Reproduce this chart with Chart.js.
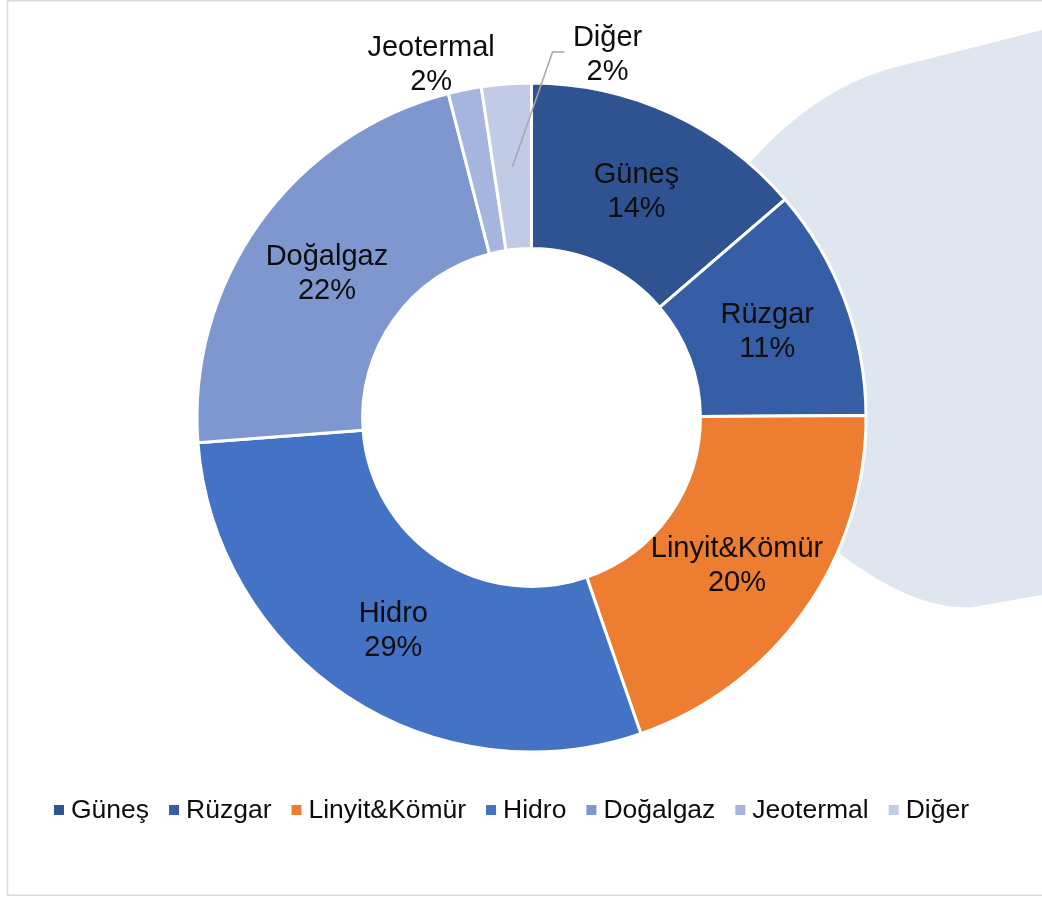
<!DOCTYPE html>
<html><head><meta charset="utf-8">
<script src="https://cdn.jsdelivr.net/npm/chart.js@4"></script>
<style>html,body{margin:0;padding:0;background:#fff;overflow:hidden}canvas{display:block}</style>
</head><body>
<canvas id="c" width="1042" height="897"></canvas>
<script>
// ---- data ----
const categories = ['Güneş', 'Rüzgar', 'Linyit&Kömür', 'Hidro', 'Doğalgaz', 'Jeotermal', 'Diğer'];
const shares = [13.7, 11.2, 19.8, 29.1, 22.2, 1.6, 2.4];
const sliceColors = ['#2f5290', '#365ea6', '#ed7d31', '#4472c4', '#7f97cf', '#a6b5dd', '#c2cbe6'];

const FONT = '"Liberation Sans", Arial, sans-serif';

const backdrop = {
  id: 'backdrop',
  beforeDraw(chart) {
    const ctx = chart.ctx;
    ctx.save();
    ctx.fillStyle = '#ffffff';
    ctx.fillRect(0, 0, chart.width, chart.height);
    // frame
    ctx.strokeStyle = '#d9d9d9';
    ctx.lineWidth = 1.5;
    ctx.strokeRect(7.5, 0.75, 1200, 894.5);
    // decorative blob behind the chart
    ctx.fillStyle = '#dfe6ef';
    ctx.beginPath();
    ctx.moveTo(790, 300);
    ctx.lineTo(720, 200);
    ctx.quadraticCurveTo(800, 90, 900, 66);
    ctx.lineTo(1042, 30);
    ctx.lineTo(1042, 595);
    ctx.lineTo(973, 607);
    ctx.quadraticCurveTo(900, 612, 800, 520);
    ctx.closePath();
    ctx.fill();
    ctx.restore();
  }
};

const sliceLabels = {
  id: 'sliceLabels',
  afterDatasetsDraw(chart) {
    const ctx = chart.ctx;
    const meta = chart.getDatasetMeta(0);
    const vals = chart.data.datasets[0].data;
    const total = vals.reduce((a, b) => a + b, 0);
    ctx.save();
    ctx.font = '29px ' + FONT;
    ctx.fillStyle = '#0d0d0d';
    ctx.textAlign = 'center';
    ctx.textBaseline = 'middle';
    meta.data.forEach((arc, i) => {
      const p = arc.getProps(['x', 'y', 'startAngle', 'endAngle', 'innerRadius', 'outerRadius'], true);
      const mid = (p.startAngle + p.endAngle) / 2;
      const pct = Math.round(vals[i] / total * 100) + '%';
      const name = chart.data.labels[i];
      let cx, cy;
      if (i <= 4) {
        const r = (p.innerRadius + p.outerRadius) / 2;
        cx = p.x + Math.cos(mid) * r;
        cy = p.y + Math.sin(mid) * r;
      } else if (i === 5) {
        const r = p.outerRadius + 28;
        cx = p.x + Math.cos(mid) * r - 28;
        cy = p.y + Math.sin(mid) * r;
      } else {
        const r = (p.innerRadius + p.outerRadius) / 2;
        const sx = p.x + Math.cos(mid) * r;
        const sy = p.y + Math.sin(mid) * r;
        const ex = sx + 40;
        const ey = p.y - p.outerRadius - 31;
        ctx.strokeStyle = '#a6a6a6';
        ctx.lineWidth = 1.5;
        ctx.beginPath();
        ctx.moveTo(sx, sy);
        ctx.lineTo(ex, ey);
        ctx.lineTo(ex + 12, ey);
        ctx.stroke();
        cx = ex + 55;
        cy = ey;
      }
      ctx.fillText(name, cx, cy - 14);
      ctx.fillText(pct, cx, cy + 20);
    });
    ctx.restore();
  }
};

const bottomLegend = {
  id: 'bottomLegend',
  afterDraw(chart) {
    const ctx = chart.ctx;
    const labels = chart.data.labels;
    const colors = chart.data.datasets[0].backgroundColor;
    ctx.save();
    ctx.font = '26.5px ' + FONT;
    const box = 10, gap = 7, itemGap = 20;
    const widths = labels.map(l => ctx.measureText(l).width);
    let total = 0;
    widths.forEach((w, i) => { total += box + gap + w + (i < widths.length - 1 ? itemGap : 0); });
    let x = 511.5 - total / 2;
    const y = 810;
    ctx.textBaseline = 'middle';
    ctx.textAlign = 'left';
    labels.forEach((l, i) => {
      ctx.fillStyle = colors[i];
      ctx.fillRect(x, y - 5, box, box);
      ctx.fillStyle = '#0d0d0d';
      ctx.fillText(l, x + box + gap, y + 1);
      x += box + gap + widths[i] + itemGap;
    });
    ctx.restore();
  }
};

new Chart(document.getElementById('c'), {
  type: 'doughnut',
  data: {
    labels: categories,
    datasets: [{
      data: shares,
      backgroundColor: sliceColors,
      borderColor: '#ffffff',
      borderWidth: 3,
      hoverOffset: 0
    }]
  },
  options: {
    responsive: false,
    devicePixelRatio: 1,
    animation: false,
    events: [],
    radius: 334.5,
    cutout: '50.5%',
    layout: { padding: { left: 197, right: 176, top: 83, bottom: 145 } },
    plugins: {
      legend: { display: false },
      tooltip: { enabled: false }
    }
  },
  plugins: [backdrop, sliceLabels, bottomLegend]
});
</script>
</body></html>
